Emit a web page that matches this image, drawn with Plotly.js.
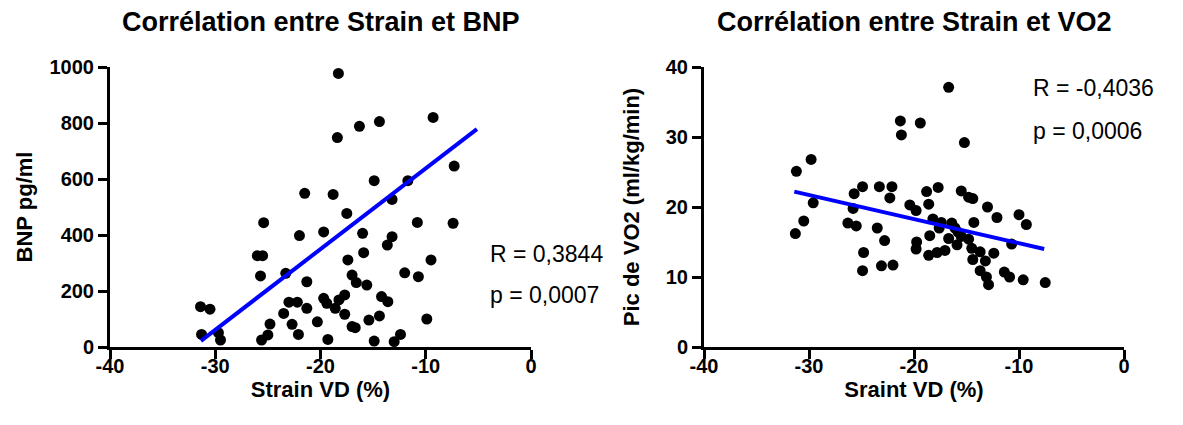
<!DOCTYPE html>
<html>
<head>
<meta charset="utf-8">
<script src="https://cdn.plot.ly/plotly-3.0.1.min.js"></script>
<style>html,body{margin:0;padding:0;background:#fff;}#chart{width:1183px;height:425px;}</style>
</head>
<body>
<div id="chart"></div>
<script>
// Left panel: Strain VD (%) vs BNP (pg/ml)
const bnpStrain = [-18.3,-16.3,-18.4,-14.4,-9.3,-7.3,-21.5,-18.8,-14.9,-11.7,-13.2,-17.5,-25.4,-22.0,-19.7,-26.0,-25.5,-25.7,-23.3,-21.3,-17.4,-16.0,-15.9,-17.0,-16.6,-15.6,-31.4,-30.5,-23.0,-22.2,-23.5,-21.3,-19.7,-19.4,-18.6,-18.25,-17.7,-17.7,-24.8,-25.0,-22.7,-22.1,-20.3,-17.0,-16.7,-31.3,-29.7,-29.5,-25.6,-19.3,-10.8,-7.4,-13.2,-13.65,-9.5,-12.0,-10.7,-14.2,-13.6,-15.4,-14.4,-9.9,-14.9,-13.0,-12.4];
const bnpValues = [977,788,748,805,820,646,549,545,594,594,527,477,444,398,411,326,326,254,263,233,311,406,337,257,230,221,144,135,160,160,120,138,174,156,138,168,186,117,82,43,81,45,90,73,69,45,51,25,25,27,445,442,394,364,311,265,251,180,162,96,111,100,21,19,45];
const bnpFitX = [-31.36, -5.14];
const bnpFitY = [22, 778];

// Right panel: Strain VD (%) vs VO2 peak (ml/kg/min)
const vo2Strain = [-21.3,-21.2,-19.4,-31.2,-29.8,-29.6,-25.7,-24.9,-23.3,-22.1,-22.3,-20.4,-25.8,-31.3,-30.5,-19.8,-26.3,-25.5,-23.5,-22.8,-24.8,-24.9,-23.1,-22.0,-19.75,-19.8,-16.7,-15.2,-18.8,-17.7,-18.6,-15.5,-14.8,-14.4,-13.0,-12.1,-10.0,-9.3,-18.2,-17.4,-17.6,-16.4,-16.1,-14.3,-15.8,-18.5,-16.7,-15.5,-14.8,-15.9,-14.5,-10.7,-18.6,-17.8,-17.05,-13.7,-12.4,-13.2,-14.4,-13.7,-13.1,-12.9,-11.4,-10.9,-9.6,-7.5];
const vo2Values = [32.3,30.3,32.0,25.1,26.8,20.6,21.9,22.9,22.9,22.9,21.3,20.3,19.8,16.2,18.0,19.5,17.7,17.3,17.0,15.2,13.5,10.9,11.6,11.7,15.0,14.0,37.1,29.2,22.2,22.8,20.4,22.3,21.4,21.2,20.0,18.5,18.9,17.5,18.3,17.8,17.0,17.7,17.0,17.8,16.4,15.9,15.5,15.8,15.4,14.6,14.1,14.7,13.1,13.5,13.8,13.6,13.4,12.3,12.5,10.9,10.0,8.9,10.7,10.0,9.6,9.2];
const vo2FitX = [-31.4, -7.6];
const vo2FitY = [22.2, 14.0];

// Ticks and labels
const xTickVals = [-40, -30, -20, -10, 0];
const xTickText = ['-40', '-30', '-20', '-10', '0'];
const bnpTickVals = [0, 200, 400, 600, 800, 1000];
const vo2TickVals = [0, 10, 20, 30, 40];
const titles = ['Corrélation entre Strain et BNP', 'Corrélation entre Strain et VO2'];
const xTitles = ['Strain VD (%)', 'Sraint VD (%)'];
const yTitles = ['BNP pg/ml', 'Pic de VO2 (ml/kg/min)'];
const statsLeft = ['R = 0,3844', 'p = 0,0007'];
const statsRight = ['R = -0,4036', 'p = 0,0006'];

const FONT = 'Liberation Sans, Arial, Helvetica, sans-serif';
const W = 1183, H = 425;
const px = v => v / W;
const py = v => 1 - v / H;

const markerStyle = {color: '#000', size: 11};
const lineStyle = {color: '#0000ff', width: 4};

const traces = [
  {x: bnpStrain, y: bnpValues, type: 'scatter', mode: 'markers', marker: markerStyle, cliponaxis: false, xaxis: 'x', yaxis: 'y', hoverinfo: 'x+y'},
  {x: bnpFitX, y: bnpFitY, type: 'scatter', mode: 'lines', line: lineStyle, cliponaxis: false, xaxis: 'x', yaxis: 'y', hoverinfo: 'skip'},
  {x: vo2Strain, y: vo2Values, type: 'scatter', mode: 'markers', marker: markerStyle, cliponaxis: false, xaxis: 'x2', yaxis: 'y2', hoverinfo: 'x+y'},
  {x: vo2FitX, y: vo2FitY, type: 'scatter', mode: 'lines', line: lineStyle, cliponaxis: false, xaxis: 'x2', yaxis: 'y2', hoverinfo: 'skip'}
];

function xAxis(dom, anchor, title) {
  return {
    domain: dom, anchor: anchor, range: [-40, 0],
    tickmode: 'array', tickvals: xTickVals, ticktext: xTickText,
    showline: true, linewidth: 3, linecolor: '#000', mirror: false,
    ticks: 'outside', ticklen: 9, tickwidth: 3, tickcolor: '#000',
    ticklabelstandoff: -10,
    tickfont: {family: FONT, size: 20, color: '#000', weight: 'bold'},
    showgrid: false, zeroline: false, automargin: false, fixedrange: true,
    title: {text: title, font: {family: FONT, size: 22, color: '#000', weight: 'bold'}, standoff: 0}
  };
}
function yAxis(dom, anchor, range, vals, title, standoff) {
  return {
    domain: dom, anchor: anchor, range: range,
    tickmode: 'array', tickvals: vals, ticktext: vals.map(String),
    showline: true, linewidth: 3, linecolor: '#000',
    ticks: 'outside', ticklen: 9, tickwidth: 3, tickcolor: '#000',
    tickfont: {family: FONT, size: 20, color: '#000', weight: 'bold'},
    showgrid: false, zeroline: false, automargin: false, fixedrange: true,
    title: {text: title, font: {family: FONT, size: 22, color: '#000', weight: 'bold'}, standoff: standoff}
  };
}

const yDom = [py(347), py(67)];
const layout = {
  width: W, height: H, autosize: false,
  margin: {l: 0, r: 0, t: 0, b: 0},
  paper_bgcolor: '#fff', plot_bgcolor: '#fff',
  showlegend: false,
  font: {family: FONT, color: '#000'},
  xaxis: xAxis([px(110), px(531)], 'y', xTitles[0]),
  yaxis: yAxis(yDom, 'x', [0, 1000], bnpTickVals, yTitles[0], 11),
  xaxis2: xAxis([px(704), px(1124)], 'y2', xTitles[1]),
  yaxis2: yAxis(yDom, 'x2', [0, 40], vo2TickVals, yTitles[1], 21),
  annotations: [
    {text: titles[0], xref: 'paper', yref: 'paper', x: px(320.5), y: py(22), xanchor: 'center', yanchor: 'middle', showarrow: false, font: {family: FONT, size: 27, color: '#000', weight: 'bold'}},
    {text: titles[1], xref: 'paper', yref: 'paper', x: px(914), y: py(22), xanchor: 'center', yanchor: 'middle', showarrow: false, font: {family: FONT, size: 27, color: '#000', weight: 'bold'}},
    {text: statsLeft[0], xref: 'paper', yref: 'paper', x: px(488), y: py(254), xanchor: 'left', yanchor: 'middle', showarrow: false, font: {family: FONT, size: 23, color: '#000'}},
    {text: statsLeft[1], xref: 'paper', yref: 'paper', x: px(488), y: py(295), xanchor: 'left', yanchor: 'middle', showarrow: false, font: {family: FONT, size: 23, color: '#000'}},
    {text: statsRight[0], xref: 'paper', yref: 'paper', x: px(1031), y: py(88), xanchor: 'left', yanchor: 'middle', showarrow: false, font: {family: FONT, size: 23, color: '#000'}},
    {text: statsRight[1], xref: 'paper', yref: 'paper', x: px(1031), y: py(131), xanchor: 'left', yanchor: 'middle', showarrow: false, font: {family: FONT, size: 23, color: '#000'}}
  ]
};

Plotly.newPlot('chart', traces, layout, {displayModeBar: false, staticPlot: true});
</script>
</body>
</html>
